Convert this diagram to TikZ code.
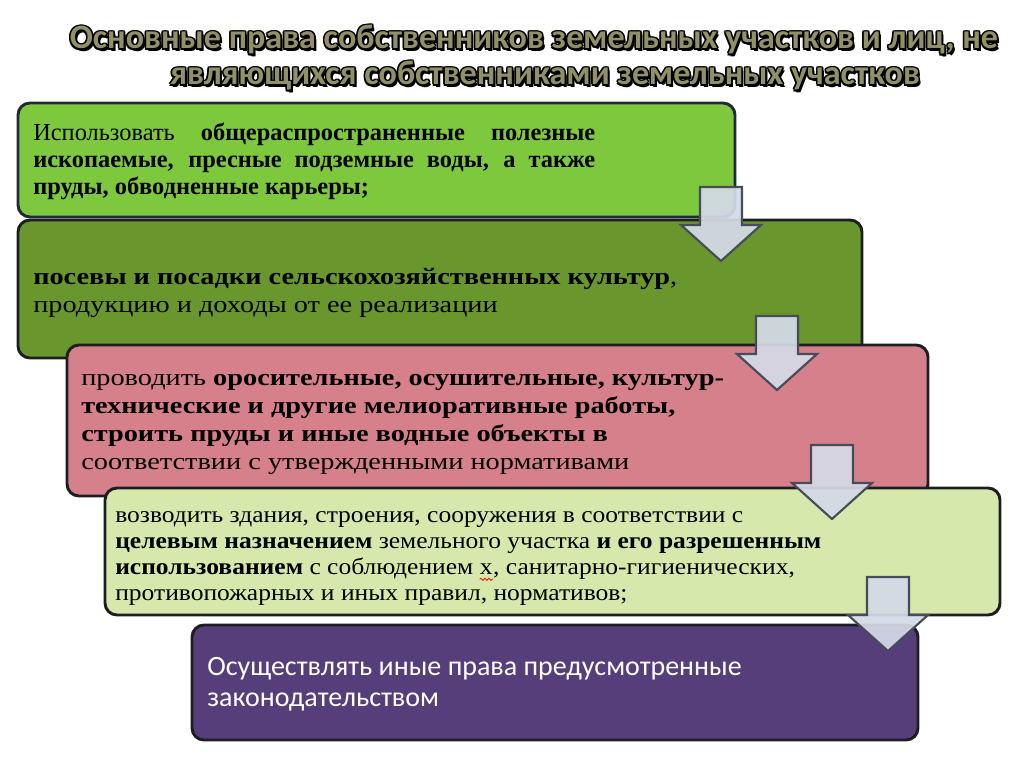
\documentclass[tikz,border=0pt]{standalone}
\usepackage{fontspec}
\setmainfont{Liberation Serif}
\newfontfamily\wideserif{Liberation Serif}[FakeStretch=1.2]
\newfontfamily\midserif{Liberation Serif}[FakeStretch=1.1]
\newfontfamily\calibri{Carlito}
\definecolor{boxone}{RGB}{126,200,62}
\definecolor{boxtwo}{RGB}{106,150,46}
\definecolor{boxthree}{RGB}{213,128,138}
\definecolor{boxfour}{RGB}{214,232,172}
\definecolor{boxfive}{RGB}{85,62,122}
\definecolor{arrowfill}{RGB}{212,218,230}
\definecolor{arrowline}{RGB}{70,76,88}
\definecolor{titlefill}{RGB}{146,144,104}
\definecolor{darkedge}{RGB}{28,30,36}
\usetikzlibrary{positioning,decorations.pathmorphing}

\begin{document}
\begin{tikzpicture}[x=0.75pt,y=0.75pt,yscale=-1,xscale=1,
		rbox/.style={draw=darkedge, line width=2.2, rounded corners=9},
		txt/.style={anchor=base west, inner sep=0pt, text=black, font=\fontsize{18.3}{20}\selectfont},
		wtxt/.style={anchor=base west, inner sep=0pt, text=black, font=\wideserif\fontsize{17.7}{20}\selectfont},
		mtxt/.style={anchor=base west, inner sep=0pt, text=black, font=\midserif\fontsize{17.4}{20}\selectfont},
		stxt/.style={anchor=base west, inner sep=0pt, text=white, font=\calibri\fontsize{21}{24}\selectfont},
		ttl/.style={anchor=base, inner sep=0pt, font=\calibri\bfseries\fontsize{25.6}{28}\selectfont},
		downarr/.pic={\draw [yscale=-1, draw=arrowline, fill=arrowfill, fill opacity=0.93, line width=1.6, line join=miter] (-21,0) -- (21,0) -- (21,38) -- (40,38) -- (0,74) -- (-40,38) -- (-21,38) -- cycle;}]
		\useasboundingbox (0,0) rectangle (1024,766);
		
		% Title (outlined letters)
		\foreach \dx/\dy [count=\k] in {-1.6/0,1.6/0,0/-1.6,0/1.6,-1.2/-1.2,1.2/1.2,-1.2/1.2,1.2/-1.2,2.2/2.2} {
			\node [ttl, text=black] (ta\k) at (534+\dx,49+\dy) {Основные права собственников земельных участков и лиц, не};
			\node [ttl, text=black] (tb\k) at (545+\dx,85+\dy) {являющихся собственниками земельных участков};
		}
		\node [ttl, text=titlefill] (title1) at (534,49) {Основные права собственников земельных участков и лиц, не};
		\node [ttl, text=titlefill] (title2) at (545,85) {являющихся собственниками земельных участков};
		
		%Shape: Rounded Rect 1
		\draw [rbox, fill=boxone, draw={rgb, 255:red, 30; green, 43; blue, 60}] (18,103) rectangle (735,217);
		%Shape: Rounded Rect 2
		\draw [rbox, fill=boxtwo] (18,220) rectangle (862,358);
		%Arrow 1
		\pic at (721,187) {downarr};
		%Shape: Rounded Rect 3
		\draw [rbox, fill=boxthree] (67,345) rectangle (928,496);
		%Arrow 2
		\pic at (777,316) {downarr};
		%Shape: Rounded Rect 4
		\draw [rbox, fill=boxfour] (105,488) rectangle (1000,615);
		%Arrow 3
		\pic at (832,445) {downarr};
		%Shape: Rounded Rect 5
		\draw [rbox, fill=boxfive] (192,625) rectangle (918,740);
		%Arrow 4
		\pic at (888,577) {downarr};
		
		% Text Node
		\node [txt] (b1l1) at (33,141) {\makebox[421.5pt][s]{Использовать \textbf{общераспространенные полезные}}};
		\node [txt] (b1l2) at (33,168) {\makebox[421.5pt][s]{\textbf{ископаемые, пресные подземные воды, а также}}};
		\node [txt] (b1l3) at (33,195) {\textbf{пруды, обводненные карьеры;}};
		% Text Node
		\node [wtxt] (b2l1) at (33,285) {\textbf{посевы и посадки сельскохозяйственных культур},};
		\node [wtxt] (b2l2) at (33,313) {продукцию и доходы от ее реализации};
		% Text Node
		\node [wtxt] (b3l1) at (81,385) {проводить \textbf{оросительные, осушительные, культур-}};
		\node [wtxt] (b3l2) at (81,413) {\textbf{технические и другие мелиоративные работы,}};
		\node [wtxt] (b3l3) at (81,441) {\textbf{строить пруды и иные водные объекты в}};
		\node [wtxt] (b3l4) at (81,469) {соответствии с утвержденными нормативами};
		% Text Node
		\node [mtxt] (b4l1) at (115,522) {возводить здания, строения, сооружения в соответствии с};
		\node [mtxt] (b4l2) at (115,548) {\textbf{целевым назначением} земельного участка \textbf{и его разрешенным}};
		\node [mtxt] (b4l3) at (115,574) {\textbf{использованием} с соблюдением};
		\node [mtxt] (b4x) at ([xshift=4.6pt]b4l3.base east) {х};
		\node [mtxt] (b4l3b) at (b4x.base east) {, санитарно-гигиенических,};
		\node [mtxt] (b4l4) at (115,600) {противопожарных и иных правил, нормативов;};
		\draw [red, line width=0.6, decorate, decoration={snake, amplitude=0.8, segment length=3}] ([yshift=4]b4x.base west) -- ([yshift=4]b4x.base east);
		% Text Node
		\node [stxt] (b5l1) at (207,675) {Осуществлять иные права предусмотренные};
		\node [stxt] (b5l2) at (207,706) {законодательством};
		
\end{tikzpicture}
\end{document}
